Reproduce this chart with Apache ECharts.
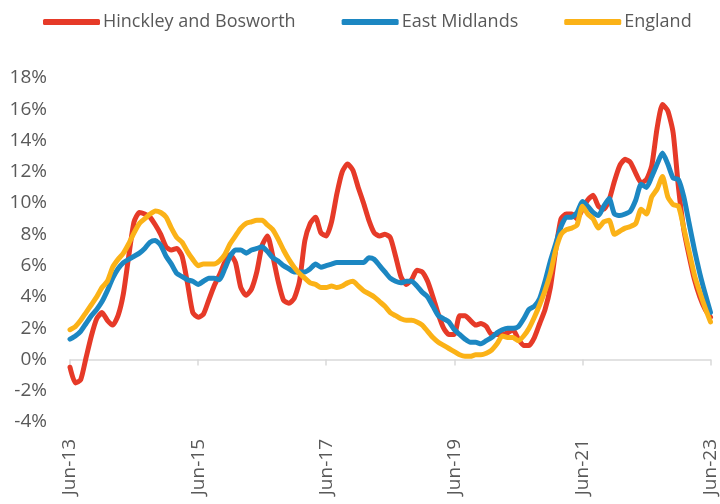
<!DOCTYPE html>
<html>
<head>
<meta charset="utf-8">
<style>
  html, body { margin: 0; padding: 0; background: #fff; }
  #chart { width: 720px; height: 504px; }
</style>
<script src="https://cdn.jsdelivr.net/npm/echarts@6/dist/echarts.min.js"></script>
</head>
<body>
<div id="chart"></div>
<script>
// monthly, Jun-13 .. Jun-23
const months = []
const monthNames = ['Jan', 'Feb', 'Mar', 'Apr', 'May', 'Jun', 'Jul', 'Aug', 'Sep', 'Oct', 'Nov', 'Dec']
for (let k = 0; k <= 120; k++) {
    const m = (5 + k) % 12
    const y = 13 + Math.floor((5 + k) / 12)
    months.push(monthNames[m] + '-' + y)
}

const hinckley = [
    -0.5, -1.5, -1.3, 0.1, 1.5, 2.6, 3.0, 2.5, 2.2, 2.8, 4.2, 6.6,
    8.8, 9.4, 9.3, 9.1, 8.6, 8.0, 7.2, 7.0, 7.1, 6.6, 4.9, 3.0,
    2.7, 2.9, 3.8, 4.7, 5.4, 6.2, 6.7, 6.2, 4.6, 4.1, 4.5, 5.6,
    7.3, 7.9, 6.6, 5.0, 3.8, 3.6, 3.9, 5.0, 7.6, 8.7, 9.1, 8.1,
    7.9, 8.8, 10.6, 12.0, 12.5, 12.1, 11.0, 10.0, 8.9, 8.1, 7.9, 8.0,
    7.8, 6.6, 5.3, 4.8, 5.1, 5.7, 5.6, 5.0, 4.0, 2.9, 2.0, 1.6,
    1.6, 2.8, 2.8, 2.5, 2.2, 2.3, 2.1, 1.6, 1.6, 1.6, 1.7, 1.9,
    1.3, 0.9, 0.9, 1.4, 2.3, 3.2, 4.6, 7.0, 9.0, 9.3, 9.3, 9.0,
    9.6, 10.2, 10.5, 9.8, 9.6, 10.2, 11.4, 12.4, 12.8, 12.6, 11.9, 11.3,
    11.5, 12.4, 14.8, 16.3, 15.9, 14.5, 11.0, 8.3, 6.6, 5.1, 4.0, 3.2,
    2.7
]

const eastMidlands = [
    1.3, 1.5, 1.8, 2.3, 2.8, 3.2, 3.7, 4.4, 5.2, 5.8, 6.2, 6.4,
    6.6, 6.8, 7.1, 7.5, 7.6, 7.3, 6.6, 6.1, 5.5, 5.3, 5.1, 5.0,
    4.8, 5.0, 5.2, 5.2, 5.1, 5.8, 6.6, 7.0, 7.0, 6.8, 7.0, 7.1,
    7.2, 6.9, 6.5, 6.3, 6.0, 5.8, 5.6, 5.6, 5.6, 5.8, 6.1, 5.9,
    6.0, 6.1, 6.2, 6.2, 6.2, 6.2, 6.2, 6.2, 6.5, 6.4, 6.0, 5.6,
    5.2, 5.0, 4.9, 5.0, 5.0, 4.7, 4.3, 4.0, 3.4, 2.8, 2.6, 2.4,
    1.9, 1.6, 1.3, 1.1, 1.1, 1.0, 1.2, 1.4, 1.7, 1.9, 2.0, 2.0,
    2.1, 2.6, 3.2, 3.4, 3.9, 5.0, 6.3, 7.4, 8.5, 9.1, 9.1, 9.4,
    10.1, 9.8, 9.4, 9.2, 9.8, 10.3, 9.3, 9.2, 9.3, 9.5, 10.2, 11.2,
    11.0, 11.7, 12.5, 13.2, 12.5, 11.6, 11.5, 10.4, 8.7, 7.0, 5.5, 4.2,
    3.0
]

const england = [
    1.9, 2.1, 2.5, 3.0, 3.5, 4.0, 4.6, 5.0, 5.9, 6.4, 6.8, 7.4,
    8.1, 8.7, 9.0, 9.3, 9.5, 9.4, 9.1, 8.4, 7.8, 7.5, 6.9, 6.4,
    6.0, 6.1, 6.1, 6.1, 6.3, 6.7, 7.4, 7.9, 8.4, 8.7, 8.8, 8.9,
    8.9, 8.6, 8.3, 7.7, 7.0, 6.4, 5.9, 5.5, 5.2, 4.9, 4.8, 4.6,
    4.6, 4.7, 4.6, 4.7, 4.9, 5.0, 4.7, 4.4, 4.2, 4.0, 3.7, 3.4,
    3.0, 2.8, 2.6, 2.5, 2.5, 2.4, 2.2, 1.8, 1.4, 1.1, 0.9, 0.7,
    0.5, 0.3, 0.2, 0.2, 0.3, 0.3, 0.4, 0.6, 1.0, 1.5, 1.4, 1.4,
    1.2, 1.5, 2.0, 2.7, 3.5, 4.4, 5.5, 7.0, 8.0, 8.3, 8.4, 8.6,
    9.8, 9.3, 9.0, 8.4, 8.8, 8.9, 8.0, 8.2, 8.4, 8.5, 8.7, 9.6,
    9.3, 10.4, 10.9, 11.7, 10.4, 9.9, 9.8, 8.4, 6.9, 5.4, 4.3, 3.3,
    2.4
]

const seriesNames = ['Hinckley and Bosworth', 'East Midlands', 'England']
const colors = ['#E63A28', '#1C87C2', '#FBB217']

const textColor = '#595959'
const font = '"Open Sans", sans-serif'

const myChart = echarts.init(document.getElementById('chart'))

const makeLine = (name, data, color) => {
    return {
        name: name,
        type: 'line',
        data: data,
        symbol: 'none',
        smooth: 0.2,
        color: color,
        lineStyle: { width: 5, color: color, cap: 'round', join: 'round' }
    }
}

let option = {
    animation: false,
    textStyle: { fontFamily: font },
    legend: {
        top: 8,
        left: 38,
        itemGap: 46,
        itemWidth: 57,
        itemHeight: 6,
        icon: 'roundRect',
        textStyle: { color: textColor, fontSize: 18, fontFamily: font, padding: [0, 0, 0, -2] },
        data: seriesNames
    },
    grid: {
        left: 70,
        right: 8,
        top: 78,
        bottom: 82,
        containLabel: false
    },
    xAxis: [
        {
            // axis line sitting on the 0% line, with tick marks
            type: 'category',
            data: months,
            boundaryGap: false,
            axisLine: { onZero: true, lineStyle: { color: '#D9D9D9', width: 1.5 } },
            axisTick: { show: true, interval: 23, length: 6, lineStyle: { color: '#D9D9D9', width: 1.5 } },
            axisLabel: { show: false },
            splitLine: { show: false }
        },
        {
            // labels along the bottom of the plot
            type: 'category',
            data: months,
            position: 'bottom',
            boundaryGap: false,
            axisLine: { show: false, onZero: false },
            axisTick: { show: false },
            axisLabel: {
                interval: 23,
                rotate: 90,
                margin: 17,
                fontSize: 19,
                color: textColor,
                fontFamily: font
            },
            splitLine: { show: false }
        }
    ],
    yAxis: {
        type: 'value',
        min: -4,
        max: 18,
        interval: 2,
        axisLine: { show: false },
        axisTick: { show: false },
        splitLine: { show: false },
        axisLabel: {
            formatter: '{value}%',
            margin: 23,
            fontSize: 19,
            color: textColor,
            fontFamily: font
        }
    },
    series: [
        makeLine(seriesNames[0], hinckley, colors[0]),
        makeLine(seriesNames[1], eastMidlands, colors[1]),
        makeLine(seriesNames[2], england, colors[2])
    ]
}
option && myChart.setOption(option)
</script>
</body>
</html>
